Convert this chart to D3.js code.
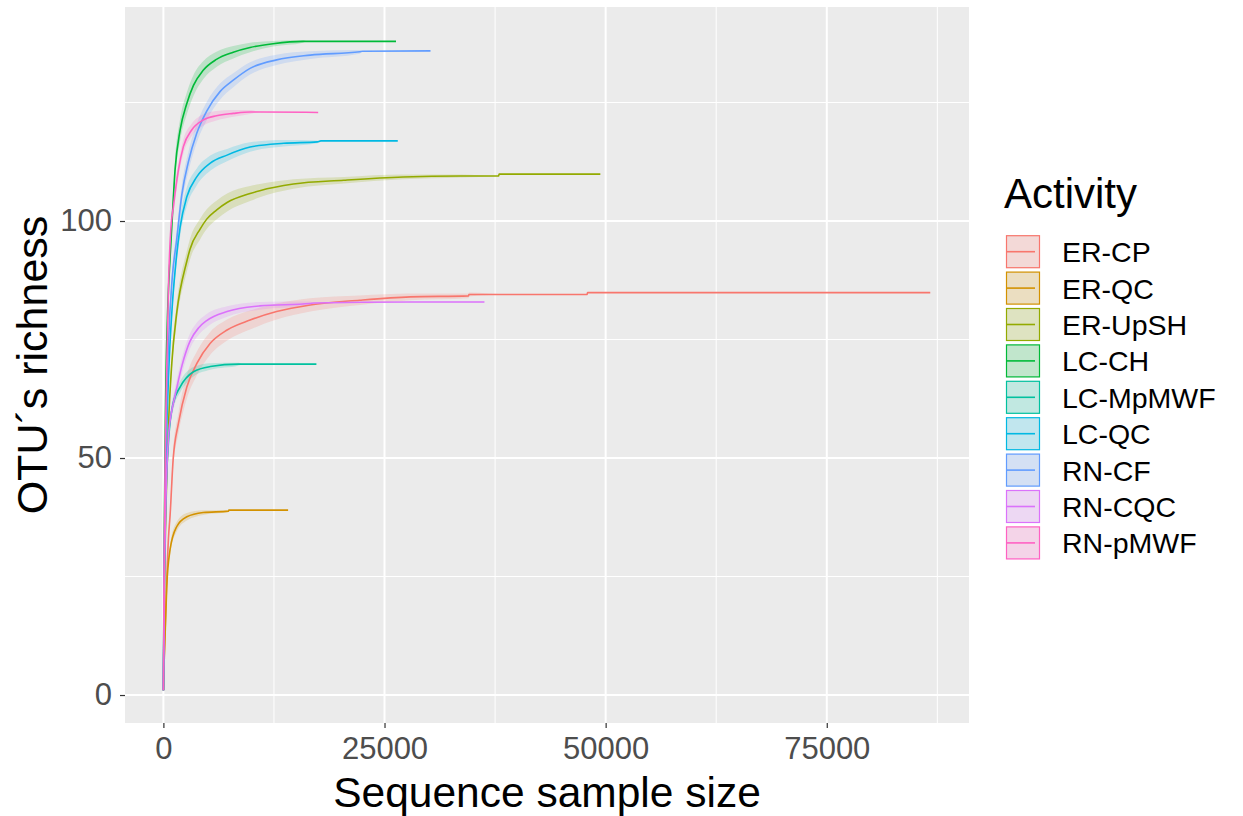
<!DOCTYPE html>
<html>
<head>
<meta charset="utf-8">
<script src="https://cdn.jsdelivr.net/npm/d3@7"></script>
<style>
  html, body { margin: 0; padding: 0; background: #ffffff; }
  svg { display: block; }
</style>
</head>
<body>
<svg id="chart" width="1243" height="816"></svg>
<script>
// ---- Data (sample size, OTU richness, ribbon half-width) ----
const categories = ["ER-CP", "ER-QC", "ER-UpSH", "LC-CH", "LC-MpMWF", "LC-QC", "RN-CF", "RN-CQC", "RN-pMWF"];
const colors = ["#F8766D", "#D39200", "#93AA00", "#00BA38", "#00C19F", "#00B9E3", "#619CFF", "#DB72FB", "#FF61C3"];

const ER_CP = [[1,1,0],[100,8,0.3],[300,20,0.8],[570,33,1.2],[760,38,1.5],[1100,49.6,1.8],[1700,57.3,2.2],[2650,65,2.5],[3800,70,2.5],[5300,74.2,2.4],[7200,77,2.2],[9800,79.1,2],[12800,80.9,1.7],[16600,82.3,1.4],[22200,83.3,1],[27900,84,0.7],[34500,84.2,0.5],[34550,84.5,0.4],[39000,84.5,0],[47900,84.5,0],[47950,84.9,0],[86700,84.9,0]];
const ER_QC = [[1,1,0],[100,8,0.3],[200,13,0.5],[380,22.8,0.8],[750,30.6,1],[1500,35.5,1],[2650,37.6,0.8],[4500,38.5,0.5],[7350,38.8,0.2],[7400,39,0],[14100,39,0]];
const ER_UpSH = [[1,1,0],[100,20,0.5],[300,40,1],[600,58,1.5],[950,70,1.8],[1500,80.5,2],[2650,91.5,2.2],[3000,94,2.2],[4150,98.3,2.2],[4900,100.4,2.1],[6000,102.3,2],[7200,103.9,1.9],[9800,105.8,1.6],[10900,106.4,1.4],[14700,107.8,1],[20400,108.6,0.7],[27100,109.3,0.5],[33600,109.5,0.3],[37900,109.5,0],[37950,109.9,0],[49400,109.9,0]];
const LC_CH = [[1,1,0],[100,35,0.8],[250,62,1.2],[500,82,1.6],[750,92,1.8],[950,98.8,2],[1320,110.8,2.2],[1890,119.2,2.3],[2650,124.8,2.3],[3400,128.6,2.2],[4500,131.8,1.9],[6000,134.1,1.6],[7900,135.6,1.3],[9800,136.6,1],[12400,137.4,0.6],[15800,137.9,0.3],[16300,137.9,0],[26300,137.9,0]];
const LC_MpMWF = [[1,1,0],[100,22,0.5],[300,42,0.8],[600,54,1],[1100,61.5,1.2],[1900,65,1.2],[3400,68.2,1],[5300,69.3,0.7],[8500,69.8,0.3],[9000,69.8,0],[17300,69.8,0]];
const LC_QC = [[1,1,0],[100,26,0.6],[300,50,1],[600,68,1.4],[1000,82,1.7],[1400,91,1.9],[1900,98.8,2],[2650,105.1,2],[3770,109.3,1.8],[5300,112.2,1.6],[7200,113.9,1.3],[9800,115.6,1],[13600,116.4,0.7],[17400,116.7,0.3],[17800,116.9,0],[26500,116.9,0]];
const RN_CF = [[1,1,0],[100,28,0.6],[300,55,1.2],[600,75,1.6],[1000,88,1.9],[1500,96,2],[2080,105.5,2.1],[2830,112.5,2.1],[3770,118.5,2],[4900,123.2,1.9],[6400,127.3,1.7],[7900,129.7,1.5],[9800,132.2,1.3],[12800,134,1.1],[16600,135,0.8],[22200,135.7,0.4],[22500,135.8,0],[30200,135.9,0]];
const RN_CQC = [[1,1,0],[100,22,0.6],[300,42,1],[600,55,1.3],[900,59.5,1.5],[1300,63,1.6],[2100,69.5,1.7],[3000,74.6,1.6],[4000,77.5,1.5],[4900,79,1.4],[7200,80.9,1.1],[10900,82.1,0.8],[16600,82.6,0.4],[17000,82.7,0],[27900,82.9,0],[36300,82.9,0]];
const RN_pMWF = [[1,1,0],[100,32,0.6],[300,62,1],[600,88,1.3],[830,98,1.5],[1130,103,1.6],[1700,110.8,1.6],[2260,115.7,1.5],[3200,119.2,1.3],[4500,121.3,1.2],[6000,122.2,1],[7900,122.7,0.7],[9800,123,0.4],[11000,123,0],[17500,122.9,0]];

const seriesData = [ER_CP, ER_QC, ER_UpSH, LC_CH, LC_MpMWF, LC_QC, RN_CF, RN_CQC, RN_pMWF];

const xTicks = [0, 25000, 50000, 75000];
const xTickLabels = ["0", "25000", "50000", "75000"];
const xMinor = [12500, 37500, 62500, 87500];
const yTicks = [0, 50, 100];
const yTickLabels = ["0", "50", "100"];
const yMinor = [25, 75, 125];

// ---- Layout ----
const panel = { left: 125, right: 969, top: 7, bottom: 723 };
const x = d3.scaleLinear().domain([-4340, 91080]).range([panel.left, panel.right]);
const y = d3.scaleLinear().domain([-5.9, 145.15]).range([panel.bottom, panel.top]);

const svg = d3.select("#chart");
svg.append("rect").attr("width", 1243).attr("height", 816).attr("fill", "#ffffff");

svg.append("rect")
  .attr("x", panel.left).attr("y", panel.top)
  .attr("width", panel.right - panel.left).attr("height", panel.bottom - panel.top)
  .attr("fill", "#EBEBEB");

const grid = svg.append("g");
grid.selectAll("line.xminor").data(xMinor).join("line")
  .attr("x1", d => x(d)).attr("x2", d => x(d))
  .attr("y1", panel.top).attr("y2", panel.bottom)
  .attr("stroke", "#ffffff").attr("stroke-width", 1);
grid.selectAll("line.yminor").data(yMinor).join("line")
  .attr("y1", d => y(d)).attr("y2", d => y(d))
  .attr("x1", panel.left).attr("x2", panel.right)
  .attr("stroke", "#ffffff").attr("stroke-width", 1);
grid.selectAll("line.xmajor").data(xTicks).join("line")
  .attr("x1", d => x(d)).attr("x2", d => x(d))
  .attr("y1", panel.top).attr("y2", panel.bottom)
  .attr("stroke", "#ffffff").attr("stroke-width", 2);
grid.selectAll("line.ymajor").data(yTicks).join("line")
  .attr("y1", d => y(d)).attr("y2", d => y(d))
  .attr("x1", panel.left).attr("x2", panel.right)
  .attr("stroke", "#ffffff").attr("stroke-width", 2);

// ---- Ribbons and lines ----
const area = d3.area()
  .curve(d3.curveMonotoneX)
  .x(d => x(d[0]))
  .y0(d => y(d[1] - d[2]))
  .y1(d => y(d[1] + d[2]));
const line = d3.line().curve(d3.curveMonotoneX).x(d => x(d[0])).y(d => y(d[1]));

const plot = svg.append("g");
seriesData.forEach((s, i) => {
  plot.append("path").attr("d", area(s))
    .attr("fill", colors[i]).attr("fill-opacity", 0.2).attr("stroke", "none");
});
seriesData.forEach((s, i) => {
  plot.append("path").attr("d", line(s))
    .attr("fill", "none").attr("stroke", colors[i]).attr("stroke-width", 1.6);
});

// ---- Axes ----
const fontFam = "'Liberation Sans', Arial, sans-serif";
const xAxis = d3.axisBottom(x).tickValues(xTicks).tickSize(5).tickPadding(9)
  .tickFormat((d, i) => xTickLabels[i]);
const gx = svg.append("g").attr("transform", `translate(0,${panel.bottom})`).call(xAxis);
gx.select(".domain").remove();
gx.selectAll(".tick line").attr("stroke", "#333333").attr("stroke-width", 1.2);
gx.selectAll(".tick text").attr("fill", "#4D4D4D").attr("font-size", 31).attr("font-family", fontFam);

const yAxis = d3.axisLeft(y).tickValues(yTicks).tickSize(5).tickPadding(8)
  .tickFormat((d, i) => yTickLabels[i]);
const gy = svg.append("g").attr("transform", `translate(${panel.left},0)`).call(yAxis);
gy.select(".domain").remove();
gy.selectAll(".tick line").attr("stroke", "#333333").attr("stroke-width", 1.2);
gy.selectAll(".tick text").attr("fill", "#4D4D4D").attr("font-size", 31).attr("font-family", fontFam);

svg.append("text")
  .attr("x", (panel.left + panel.right) / 2).attr("y", 807)
  .attr("text-anchor", "middle").attr("font-size", 42.5).attr("font-family", fontFam)
  .attr("fill", "#000000").text("Sequence sample size");
svg.append("text")
  .attr("transform", `translate(47,${(panel.top + panel.bottom) / 2}) rotate(-90)`)
  .attr("text-anchor", "middle").attr("font-size", 43).attr("font-family", fontFam)
  .attr("fill", "#000000").text("OTU´s richness");

// ---- Legend ----
const legend = svg.append("g");
legend.append("text").attr("x", 1004).attr("y", 208)
  .attr("font-size", 42).attr("font-family", fontFam).attr("fill", "#000000").text("Activity");
const keyY0 = 251.7, keyStep = 36.4, keyH = 33, keyW = 34, keyX = 1006;
categories.forEach((c, i) => {
  const cy = keyY0 + i * keyStep;
  legend.append("rect").attr("x", keyX).attr("y", cy - keyH / 2).attr("width", keyW).attr("height", keyH)
    .attr("fill", "#F2F2F2");
  legend.append("rect").attr("x", keyX + 0.5).attr("y", cy - keyH / 2 + 0.5).attr("width", keyW - 1).attr("height", keyH - 1)
    .attr("fill", colors[i]).attr("fill-opacity", 0.2).attr("stroke", colors[i]).attr("stroke-width", 1.2);
  legend.append("line").attr("x1", keyX + 1).attr("x2", keyX + 29).attr("y1", cy).attr("y2", cy)
    .attr("stroke", colors[i]).attr("stroke-width", 1.6);
  legend.append("text").attr("x", 1062).attr("y", cy + 10.5)
    .attr("font-size", 28.5).attr("font-family", fontFam).attr("fill", "#000000").text(c);
});
</script>
</body>
</html>
